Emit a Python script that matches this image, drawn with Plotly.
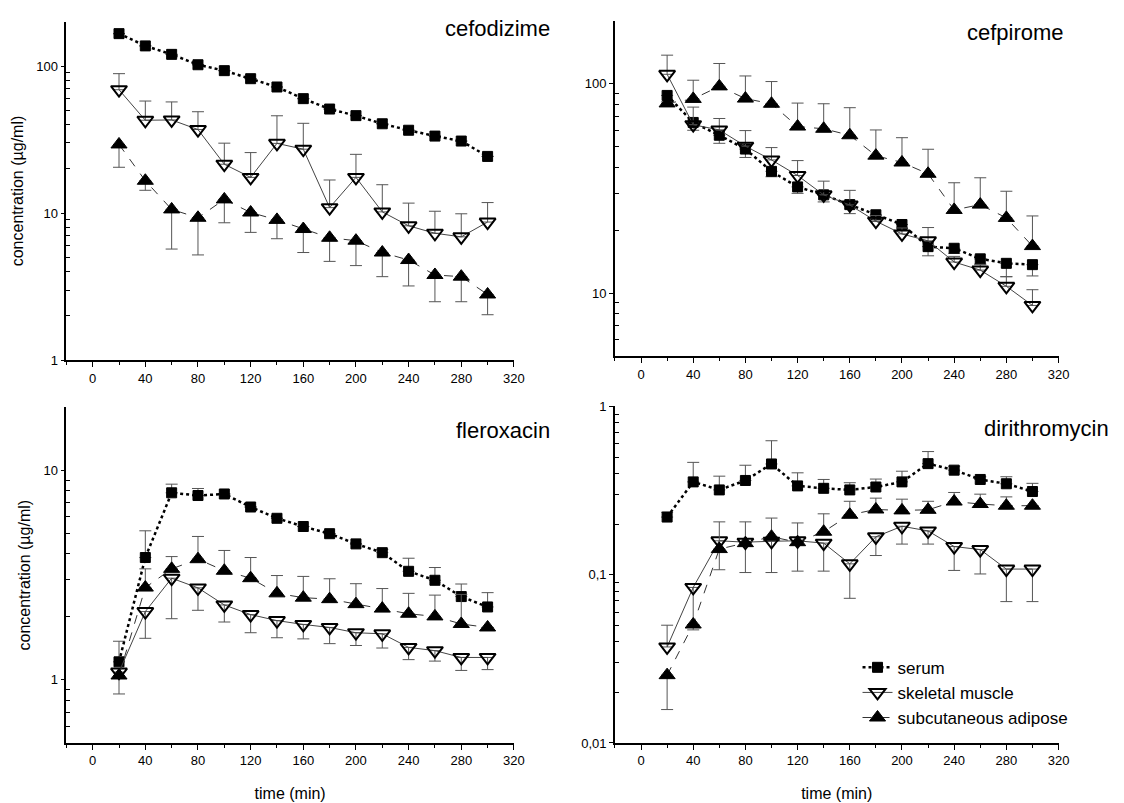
import math
import plotly.graph_objects as go

nan = float("nan")
time = [20, 40, 60, 80, 100, 120, 140, 160, 180, 200, 220, 240, 260, 280, 300]

# cefodizime
cefo_serum = [166, 137, 120, 102, 93, 82, 72, 60, 51, 46, 40.5, 36.6, 33.4, 30.9, 24.3]
cefo_muscle = [69, 42.8, 43, 37, 21.5, 17.5, 29.8, 27.2, 10.9, 17.5, 10.2, 8.2, 7.3, 6.9, 8.7]
cefo_muscle_hi = [88.7, 57.8, 57, 48.9, 29.9, 25.8, 45.9, 40.8, 16.8, 25.1, 15.6, 11.7, 10.3, 9.9, 11.8]
cefo_adipose = [29.3, 16.6, 10.6, 9.3, 12.4, 10.1, 9.0, 7.8, 6.8, 6.5, 5.4, 4.8, 3.8, 3.7, 2.8]
cefo_adipose_lo = [20.5, 14.3, 5.7, 5.2, 8.6, 7.4, 6.7, 5.4, 4.7, 4.4, 3.7, 3.2, 2.5, 2.5, 2.04]

# cefpirome
cefp_serum = [88, 65.4, 56.8, 48.8, 38.2, 32.2, 29.5, 26.5, 23.7, 21.3, 16.7, 16.4, 14.6, 13.9, 13.7]
cefp_serum_lo = [82, 60, 52, 44.5, 36, 30, 27.3, 24, 22, 20, 15.1, 15.5, 13.8, 12.0, 12.1]
cefp_muscle = [111, 63.8, 60.2, 50.4, 43.3, 36.5, 29.5, 26.4, 22.1, 19.2, 17.8, 14.1, 12.9, 10.8, 8.75]
cefp_muscle_hi = [137, 77.4, 68.3, 59.8, 49.6, 43, 34.3, 31, 23.5, 20.5, 20.6, 15, 13.7, 12, 10.4]
cefp_adipose = [80.6, 84.7, 97.2, 85, 80.3, 62.5, 61, 56.8, 45.4, 42.1, 37.2, 25, 26.5, 22.9, 16.8]
cefp_adipose_hi = [nan, 104, 125, 109, 102.5, 80.9, 80.3, 76.9, 60.2, 55.3, 48.7, 33.7, 35.6, 30.7, 23.4]

# fleroxacin
flex_serum = [1.22, 3.84, 7.82, 7.59, 7.72, 6.69, 5.91, 5.40, 4.99, 4.46, 4.05, 3.30, 2.99, 2.50, 2.23]
flex_serum_hi = [1.53, 5.15, 8.6, 8.2, nan, nan, nan, nan, nan, nan, 4.2, 3.81, 3.44, 2.87, 2.61]
flex_muscle = [1.09, 2.12, 3.06, 2.75, 2.28, 2.05, 1.92, 1.84, 1.78, 1.68, 1.66, 1.43, 1.38, 1.28, 1.28]
flex_muscle_lo = [0.857, 1.58, 1.96, 2.15, 1.89, 1.68, 1.59, 1.57, 1.49, 1.46, 1.42, 1.25, 1.23, 1.11, 1.12]
flex_adipose = [1.05, 2.76, 3.39, 3.77, 3.32, 3.06, 2.59, 2.47, 2.43, 2.30, 2.19, 2.07, 2.01, 1.85, 1.78]
flex_adipose_hi = [nan, 3.39, 3.88, 4.84, 4.15, 3.84, 3.15, 3.12, 3.04, 2.88, 2.73, 2.59, 2.54, 2.56, nan]

# dirithromycin
diri_serum = [0.220, 0.356, 0.319, 0.363, 0.455, 0.337, 0.326, 0.319, 0.332, 0.356, 0.457, 0.418, 0.368, 0.347, 0.312]
diri_serum_hi = [0.235, 0.465, 0.385, 0.447, 0.625, 0.403, 0.368, 0.352, 0.370, 0.412, 0.539, 0.441, 0.382, 0.382, 0.349]
diri_muscle = [0.0372, 0.084, 0.159, 0.156, 0.158, 0.159, 0.154, 0.116, 0.168, 0.194, 0.182, 0.147, 0.141, 0.108, 0.108]
diri_muscle_hi = [0.0501, nan, nan, nan, nan, nan, nan, nan, nan, nan, nan, nan, nan, nan, nan]
diri_muscle_lo = [nan, 0.047, 0.107, 0.103, 0.103, 0.105, 0.105, 0.0724, 0.130, 0.152, 0.152, 0.106, 0.101, 0.0692, 0.0692]
diri_adipose = [0.0253, 0.0506, 0.142, 0.154, 0.168, 0.156, 0.180, 0.227, 0.244, 0.241, 0.243, 0.272, 0.263, 0.257, 0.257]
diri_adipose_hi = [nan, nan, 0.206, 0.206, 0.217, 0.203, 0.230, 0.273, 0.285, 0.281, 0.273, 0.308, 0.301, 0.290, nan]
diri_adipose_lo = [0.0158, nan, nan, nan, nan, nan, nan, nan, nan, nan, nan, nan, nan, nan, nan]

drug_names = ["cefodizime", "cefpirome", "fleroxacin", "dirithromycin"]
series_names = ["serum", "skeletal muscle", "subcutaneous adipose"]
x_ticks = [0, 40, 80, 120, 160, 200, 240, 280, 320]
x_minor = [-20, 20, 60, 100, 140, 180, 220, 260, 300]

FONT = "Liberation Sans, Arial, sans-serif"
W, H = 1124, 803


def px(x):
    return x / W


def py(y):
    return 1 - y / H


def plus(vals, hi):
    if hi is None:
        return [nan] * len(vals)
    return [h - v if not math.isnan(h) else nan for v, h in zip(vals, hi)]


def minus(vals, lo):
    if lo is None:
        return [nan] * len(vals)
    return [v - l if not math.isnan(l) else nan for v, l in zip(vals, lo)]


panels = [
    (cefo_serum, None, None, cefo_muscle, cefo_muscle_hi, None, cefo_adipose, None, cefo_adipose_lo),
    (cefp_serum, None, cefp_serum_lo, cefp_muscle, cefp_muscle_hi, None, cefp_adipose, cefp_adipose_hi, None),
    (flex_serum, flex_serum_hi, None, flex_muscle, None, flex_muscle_lo, flex_adipose, flex_adipose_hi, None),
    (diri_serum, diri_serum_hi, None, diri_muscle, diri_muscle_hi, diri_muscle_lo, diri_adipose, diri_adipose_hi, diri_adipose_lo),
]

styles = [
    dict(line=dict(color="black", width=2.5, dash="dot"),
         marker=dict(symbol="square", size=10, color="black", line=dict(color="black", width=1))),
    dict(line=dict(color="#444444", width=1, dash="solid"),
         marker=dict(symbol="triangle-down-open", size=14, color="black", line=dict(color="black", width=2))),
    dict(line=dict(color="#333333", width=1, dash="dash"),
         marker=dict(symbol="triangle-up", size=14, color="black", line=dict(color="black", width=1))),
]

fig = go.Figure()
for p, pd in enumerate(panels):
    ax = "" if p == 0 else str(p + 1)
    triples = [(pd[0], pd[1], pd[2]), (pd[3], pd[4], pd[5]), (pd[6], pd[7], pd[8])]
    for s, (vals, hi, lo) in enumerate(triples):
        st = styles[s]
        fig.add_trace(go.Scatter(
            x=time, y=vals, mode="lines+markers", name=series_names[s],
            xaxis="x" + ax, yaxis="y" + ax,
            line=st["line"], marker=st["marker"],
            showlegend=(p == 3),
            error_y=dict(type="data", symmetric=False, array=plus(vals, hi), arrayminus=minus(vals, lo),
                         color="#555555", thickness=1, width=6),
        ))

xdom = [[px(67), px(519)], [px(621), px(1069)], [px(67), px(519)], [px(621), px(1069)]]
ydom = [[py(360), py(15)], [py(356), py(14)], [py(750), py(408)], [py(750), py(407)]]
yranges = [[1, 200], [5, 200], [0.5, 20], [0.01, 1]]
ymajor = [[1, 10, 100], [10, 100], [1, 10], [0.01, 0.1, 1]]
ylabels = [["1", "10", "100"], ["10", "100"], ["1", "10"], ["0,01", "0,1", "1"]]


def minor_vals(lo, hi):
    out = []
    d = 10 ** math.floor(math.log10(lo) - 1)
    while d < hi * 10:
        for k in range(2, 10):
            v = k * d
            if lo < v < hi:
                out.append(v)
        d *= 10
    return out


layout = dict(
    width=W, height=H, margin=dict(l=0, r=0, t=0, b=0),
    paper_bgcolor="white", plot_bgcolor="white",
    font=dict(family=FONT, color="black", size=13),
    legend=dict(x=px(866), y=py(655), xanchor="left", yanchor="top",
                font=dict(size=17, family=FONT), bgcolor="rgba(0,0,0,0)", tracegroupgap=0),
    annotations=[],
)
for p in range(4):
    ax = "" if p == 0 else str(p + 1)
    lo, hi = yranges[p]
    layout["xaxis" + ax] = dict(
        domain=xdom[p], range=[-20, 320], anchor="y" + ax,
        showline=True, linecolor="black", linewidth=1.5, showgrid=False, zeroline=False,
        tickmode="array", tickvals=x_ticks, ticks="outside", ticklen=5, tickwidth=1.2, tickcolor="black",
        tickfont=dict(size=13, family=FONT),
        minor=dict(tickmode="array", tickvals=x_minor, ticks="outside", ticklen=3, tickcolor="black", tickwidth=1),
        title=dict(text="time (min)" if p >= 2 else "", font=dict(size=16, family=FONT), standoff=20),
    )
    layout["yaxis" + ax] = dict(
        domain=ydom[p], type="log", range=[math.log10(lo), math.log10(hi)], anchor="x" + ax,
        showline=True, linecolor="black", linewidth=1.5, showgrid=False, zeroline=False,
        tickmode="array", tickvals=ymajor[p], ticktext=ylabels[p],
        ticks="outside", ticklen=4, tickwidth=1.2, tickcolor="black",
        tickfont=dict(size=13, family=FONT),
        minor=dict(tickmode="array", tickvals=minor_vals(lo, hi), ticks="inside", ticklen=4, tickcolor="black", tickwidth=1),
        title=dict(text="concentration (µg/ml)" if p in (0, 2) else "", font=dict(size=16, family=FONT), standoff=9),
    )

title_pos = [(557, 22), (1077, 26), (557, 432), (1122, 430)]
for p in range(4):
    layout["annotations"].append(dict(
        text=drug_names[p], xref="paper", yref="paper",
        x=px(title_pos[p][0]), y=py(title_pos[p][1]),
        xanchor="right", yanchor="middle", showarrow=False,
        font=dict(size=22, family=FONT, color="black"),
    ))

fig.update_layout(**layout)
fig.write_html(
    "out.html",
    config={"displayModeBar": False},
    post_script="document.body.style.margin='0';document.body.style.overflow='hidden';",
)
